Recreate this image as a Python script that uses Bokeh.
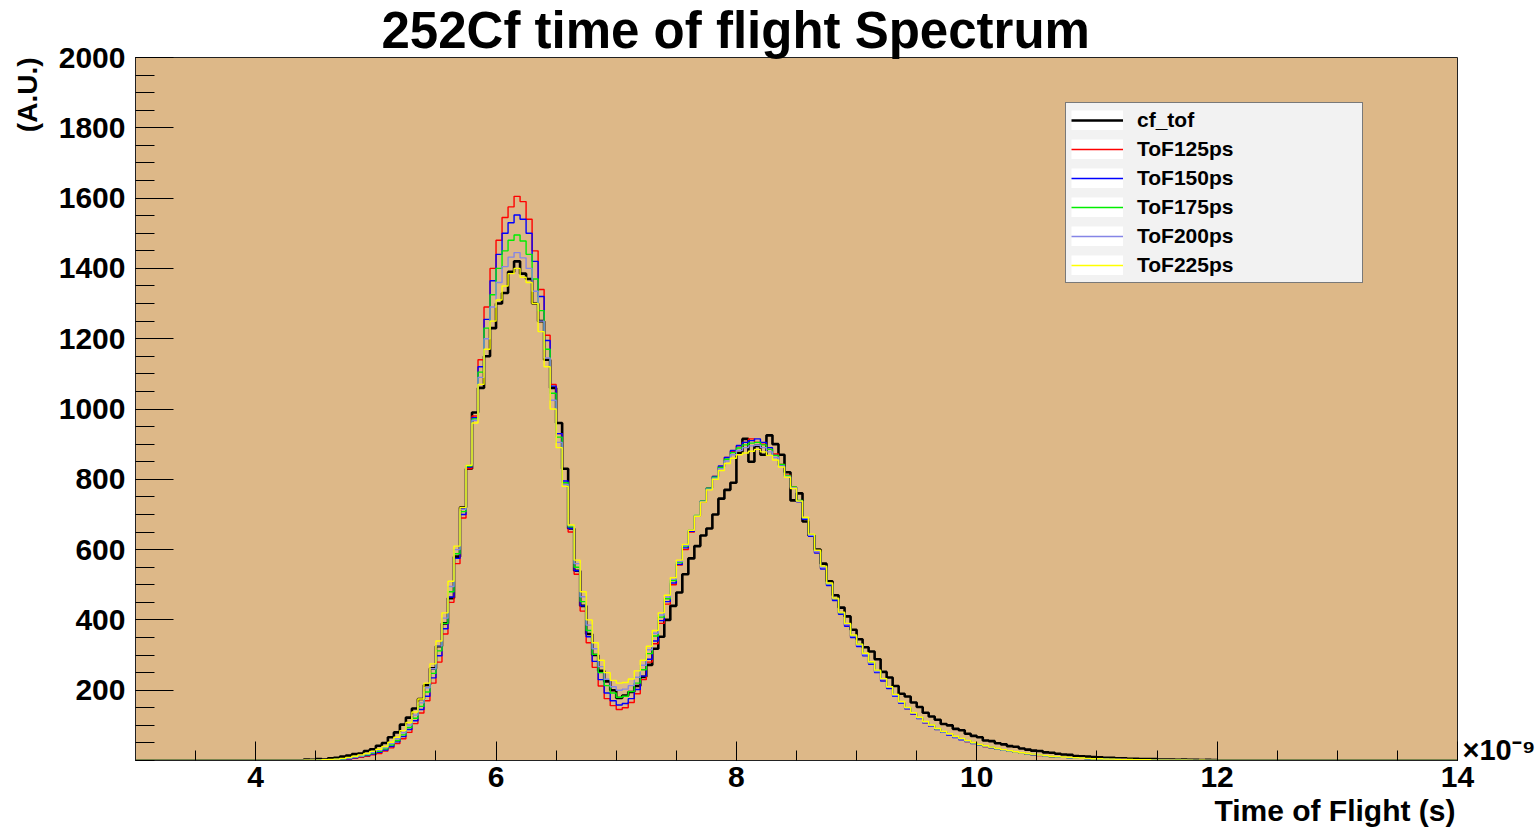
import math
from bokeh.plotting import figure
from bokeh.models import Range1d, FixedTicker, Legend, LegendItem, Title, LinearAxis
from bokeh.embed import file_html
from bokeh.resources import INLINE

# ---------------- data (counts per 0.05 ns bin, bins start at 4.40 ns) ----------------
BIN_START = 4.40
BIN_WIDTH = 0.05
X_MIN, X_MAX = 3.0, 14.0

series_names = ["cf_tof", "ToF125ps", "ToF150ps", "ToF175ps", "ToF200ps", "ToF225ps"]

cf_tof = [
    3, 2, 4, 3, 6, 8, 11, 14, 18, 20,
    27, 32, 42, 50, 66, 80, 102, 122, 148, 175,
    215, 262, 325, 390, 462, 580, 720, 830, 990, 1060,
    1150, 1230, 1300, 1330, 1390, 1420, 1385, 1370, 1300, 1250,
    1140, 1060, 960, 830, 660, 540, 440, 360, 300, 255,
    225, 200, 178, 185, 195, 212, 238, 272, 318, 352,
    400, 440, 478, 530, 575, 610, 640, 660, 700, 745,
    770, 790, 875, 915, 850, 895, 870, 925, 900, 870,
    820, 740, 760, 680, 640, 600, 560, 510, 470, 435,
    410, 372, 345, 322, 310, 288, 252, 236, 212, 190,
    182, 165, 152, 136, 125, 116, 104, 100, 90, 86,
    76, 70, 66, 57, 55, 49, 46, 41, 39, 34,
    31, 28, 27, 23, 22, 19, 17, 16, 13, 12,
    11, 10, 9, 8, 8, 6, 6, 5, 5, 4,
    4, 4, 3, 3, 3, 2, 3, 2, 2, 1,
    2, 1,
]

tof125 = [
    0, 0, 0, 1, 1, 2, 3, 4, 6, 9,
    12, 16, 20, 27, 36, 48, 62, 80, 105, 135,
    170, 220, 280, 360, 450, 560, 690, 830, 980, 1140,
    1290, 1400, 1480, 1545, 1575, 1605, 1590, 1540, 1450, 1340,
    1210, 1070, 930, 790, 650, 530, 425, 335, 265, 212,
    176, 156, 145, 150, 165, 190, 230, 280, 332, 390,
    445, 500, 556, 600, 650, 695, 735, 775, 808, 835,
    862, 880, 895, 905, 915, 905, 900, 885, 872, 842,
    812, 778, 738, 690, 640, 592, 548, 500, 458, 418,
    385, 352, 326, 300, 276, 252, 228, 206, 184, 164,
    148, 133, 120, 108, 98, 89, 80, 73, 66, 60,
    54, 49, 44, 40, 36, 32, 29, 26, 23, 21,
    18, 16, 14, 13, 11, 10, 9, 8, 7, 6,
    5, 5, 4, 4, 3, 3, 3, 2, 2, 2,
    1, 1, 1, 1, 1, 0, 1, 0, 0, 0,
    0, 0,
]

tof150 = [
    0, 0, 1, 1, 1, 2, 4, 5, 8, 11,
    14, 18, 23, 30, 40, 53, 68, 88, 113, 145,
    183, 235, 298, 375, 465, 575, 700, 835, 975, 1120,
    1255, 1365, 1440, 1500, 1530, 1552, 1540, 1500, 1420, 1320,
    1195, 1065, 930, 795, 660, 540, 440, 352, 282, 230,
    192, 170, 158, 162, 176, 202, 240, 288, 340, 398,
    452, 505, 558, 605, 652, 695, 738, 775, 808, 838,
    862, 882, 896, 905, 910, 915, 905, 890, 868, 840,
    808, 776, 736, 686, 638, 590, 545, 498, 455, 416,
    382, 350, 324, 298, 274, 250, 226, 205, 183, 163,
    147, 132, 119, 107, 97, 88, 80, 72, 65, 59,
    54, 48, 44, 40, 36, 32, 29, 26, 23, 21,
    18, 16, 15, 13, 11, 10, 9, 8, 7, 6,
    5, 5, 4, 4, 3, 3, 3, 2, 2, 2,
    1, 1, 1, 1, 1, 1, 0, 1, 0, 0,
    0, 0,
]

tof175 = [
    0, 0, 1, 1, 2, 3, 4, 6, 9, 12,
    16, 21, 26, 33, 44, 57, 73, 94, 120, 154,
    195, 248, 312, 390, 480, 588, 708, 838, 972, 1105,
    1230, 1325, 1400, 1450, 1480, 1495, 1478, 1440, 1370, 1280,
    1170, 1045, 920, 790, 665, 550, 452, 370, 302, 250,
    213, 192, 180, 183, 196, 220, 258, 304, 354, 408,
    460, 512, 563, 610, 655, 697, 738, 775, 806, 834,
    857, 876, 889, 898, 903, 905, 898, 885, 868, 842,
    810, 778, 740, 690, 642, 595, 550, 502, 460, 420,
    388, 355, 330, 303, 279, 255, 231, 209, 186, 166,
    150, 135, 122, 110, 100, 90, 82, 75, 68, 62,
    56, 50, 45, 41, 37, 33, 30, 27, 24, 21,
    19, 17, 15, 13, 11, 10, 9, 8, 7, 6,
    5, 5, 4, 4, 3, 3, 2, 2, 2, 2,
    1, 1, 1, 1, 0, 1, 1, 0, 0, 0,
    0, 0,
]

tof200 = [
    0, 1, 1, 2, 2, 3, 5, 7, 10, 13,
    18, 23, 29, 37, 48, 62, 79, 101, 129, 164,
    207, 261, 326, 405, 495, 600, 715, 840, 968, 1090,
    1200, 1290, 1360, 1405, 1432, 1445, 1430, 1400, 1335, 1250,
    1145, 1025, 905, 785, 668, 560, 466, 385, 318, 267,
    231, 210, 200, 203, 213, 237, 271, 315, 362, 414,
    465, 516, 566, 612, 655, 696, 736, 772, 803, 830,
    852, 870, 882, 890, 895, 897, 890, 878, 862, 838,
    808, 776, 738, 690, 641, 594, 549, 502, 460, 420,
    387, 354, 328, 301, 277, 253, 230, 208, 185, 165,
    149, 134, 121, 109, 99, 90, 81, 74, 67, 61,
    55, 50, 45, 41, 37, 33, 30, 27, 24, 21,
    19, 17, 15, 13, 12, 10, 9, 8, 7, 6,
    5, 5, 4, 4, 3, 3, 3, 2, 2, 2,
    1, 1, 1, 1, 1, 0, 1, 0, 0, 0,
    0, 0,
]

tof225 = [
    1, 1, 1, 2, 3, 4, 6, 9, 12, 16,
    20, 26, 32, 40, 52, 66, 85, 108, 138, 175,
    220, 275, 340, 420, 510, 610, 720, 840, 960, 1070,
    1170, 1250, 1310, 1350, 1385, 1400, 1375, 1360, 1300, 1220,
    1120, 1000, 890, 780, 670, 570, 480, 400, 335, 285,
    250, 228, 220, 222, 232, 255, 285, 325, 370, 420,
    470, 520, 570, 615, 655, 695, 735, 770, 800, 825,
    845, 860, 870, 875, 880, 885, 878, 868, 855, 835,
    806, 774, 738, 692, 644, 598, 553, 505, 462, 422,
    390, 357, 331, 305, 281, 257, 233, 210, 188, 168,
    151, 136, 123, 111, 101, 91, 83, 76, 69, 63,
    57, 51, 46, 42, 38, 34, 31, 28, 25, 22,
    20, 18, 16, 14, 12, 11, 10, 9, 8, 7,
    6, 5, 5, 4, 4, 3, 3, 3, 2, 2,
    2, 1, 1, 1, 1, 1, 1, 1, 0, 1,
    0, 0,
]

x_major_ticks = [4, 6, 8, 10, 12, 14]
y_major_ticks = [200, 400, 600, 800, 1000, 1200, 1400, 1600, 1800, 2000]

# ---------------- style ----------------
FONT = "Liberation Sans"
series_styles = [
    ("black", 2.6),
    ("#ff0000", 1.4),
    ("#0000ff", 1.4),
    ("#00ee00", 1.4),
    ("#8585e6", 1.4),
    ("#ffff00", 1.4),
]
all_series = [cf_tof, tof125, tof150, tof175, tof200, tof225]

n = len(cf_tof)
edges = [round(BIN_START + i * BIN_WIDTH, 4) for i in range(n + 1)]
xs = [X_MIN] + edges + [X_MAX]


def step_values(vals):
    return [0] + list(vals) + [0, 0]


p = figure(
    width=1538, height=833,
    x_range=Range1d(X_MIN, X_MAX), y_range=Range1d(0, 2000),
    output_backend="svg", toolbar_location=None, title=None,
    min_border_left=135, min_border_right=81, min_border_top=57, min_border_bottom=73,
    background_fill_color="#ddb888", border_fill_color="white",
)
p.grid.visible = False
p.outline_line_color = "#222222"
p.outline_line_width = 1

# axes
p.xaxis.ticker = FixedTicker(ticks=x_major_ticks,
                             minor_ticks=[X_MIN + 0.5 * i for i in range(23)])
p.yaxis.ticker = FixedTicker(ticks=y_major_ticks,
                             minor_ticks=[50 * i for i in range(41)])
for ax in (p.xaxis[0], p.yaxis[0]):
    ax.major_tick_out = 0
    ax.minor_tick_out = 0
    ax.axis_line_color = "#222222"
    ax.major_tick_line_color = "black"
    ax.minor_tick_line_color = "black"
    ax.major_label_text_font = FONT
    ax.major_label_text_font_style = "bold"
    ax.major_label_text_font_size = "30px"
    ax.major_label_text_color = "black"
p.xaxis.major_tick_in = 19
p.xaxis.minor_tick_in = 10
p.xaxis.major_label_standoff = 6
p.yaxis.major_tick_in = 38
p.yaxis.minor_tick_in = 19
p.yaxis.major_label_standoff = 10

# exponent label of the x axis, shown at the right end of the frame
exp_axis = LinearAxis(
    ticker=FixedTicker(ticks=[30]), major_label_overrides={30: "\u00d710\u207b\u2079"},
    major_tick_in=0, major_tick_out=0, minor_tick_in=0, minor_tick_out=0,
    axis_line_color=None, major_label_standoff=5,
    major_label_text_font=FONT, major_label_text_font_style="bold",
    major_label_text_font_size="29px", major_label_text_color="black",
)
p.add_layout(exp_axis, "right")

# legend white boxes (helper drawn only in the legend)
white_box = p.line(x=[float("nan")], y=[float("nan")], line_color="white",
                   line_width=20, line_cap="butt")

items = []
for name, vals, (color, lw) in zip(series_names, all_series, series_styles):
    r = p.step(x=xs, y=step_values(vals), mode="after", line_color=color, line_width=lw)
    items.append(LegendItem(label=name, renderers=[white_box, r]))

legend = Legend(
    items=items, location=(930, 477),
    glyph_width=52, glyph_height=20, label_height=20,
    spacing=5, padding=5, margin=0, label_standoff=14, label_width=220,
    border_line_color="black", border_line_width=1,
    background_fill_color="#f2f2f2", background_fill_alpha=1.0,
    label_text_font=FONT, label_text_font_style="bold", label_text_font_size="21px",
    label_text_color="black",
)
p.add_layout(legend)

# titles
p.add_layout(Title(text="252Cf time of flight Spectrum", align="left", offset=246,
                   standoff=-3, text_font=FONT, text_font_style="bold",
                   text_font_size="51px", text_color="black"), "above")
p.add_layout(Title(text="(A.U.)", align="right", vertical_align="top", standoff=21,
                   text_font=FONT, text_font_style="bold", text_font_size="28px",
                   text_color="black"), "left")
p.add_layout(Title(text="Time of Flight (s)", align="right", vertical_align="top",
                   offset=2, standoff=8, text_font=FONT, text_font_style="bold",
                   text_font_size="30px", text_color="black"), "below")

open("out.html", "w").write(file_html(p, INLINE))
